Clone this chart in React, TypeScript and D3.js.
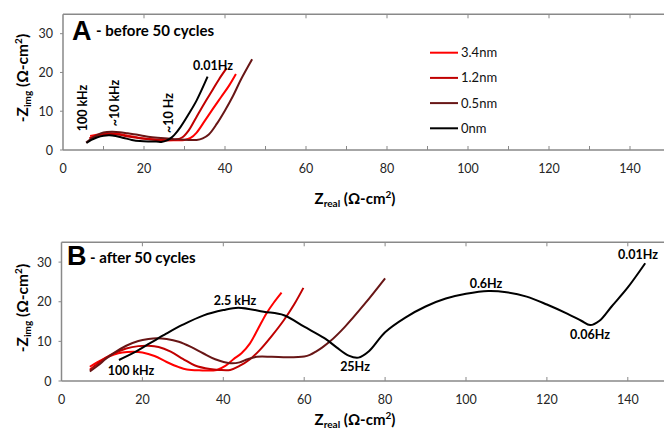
import React from "react";
import * as d3 from "d3";

// ---------- data ----------
const seriesNames = ["3.4nm", "1.2nm", "0.5nm", "0nm"];
const seriesColors = ["#ff0000", "#c00000", "#681616", "#000000"];

// Panel A - before 50 cycles
const a34x = [6.7, 8, 10, 12, 14, 16, 18, 20, 23, 26, 28, 30, 31.5, 33, 35, 37, 39, 41, 42.7];
const a34y = [3.6, 3.9, 4.2, 4.3, 4.1, 3.7, 3.3, 3.0, 2.7, 2.5, 2.5, 2.6, 3.1, 4.5, 7.5, 10.6, 13.6, 16.6, 19.6];
const a12x = [6.5, 8, 10, 12, 14, 16, 18, 20, 23, 26, 28, 29.5, 31, 33, 35, 37, 38.5, 40.4];
const a12y = [3.0, 3.6, 4.0, 4.1, 3.9, 3.5, 3.2, 2.9, 2.6, 2.5, 2.7, 3.3, 5.0, 8.6, 12.2, 15.6, 18.2, 21.1];
const a05x = [5.7, 7, 8.5, 10, 12, 14, 16, 18, 20, 22, 25, 28, 31, 33, 34.5, 36, 38, 40, 42, 44, 46.7];
const a05y = [1.9, 2.9, 3.9, 4.5, 4.7, 4.6, 4.3, 4.0, 3.6, 3.3, 3.0, 2.8, 2.6, 2.6, 3.0, 4.0, 6.8, 10.2, 14.0, 18.3, 23.4];
const a00x = [5.8, 7, 8.5, 10, 11.5, 13, 15, 17, 19, 21, 23, 24.5, 25.5, 26.5, 27.5, 29, 31, 33, 35.7];
const a00y = [1.8, 2.6, 3.3, 3.7, 3.8, 3.6, 3.1, 2.6, 2.3, 2.2, 2.2, 2.1, 2.4, 3.0, 3.9, 5.9, 9.2, 12.8, 18.9];

// Panel B - after 50 cycles
const b34x = [7, 9, 11, 13, 15, 17.8, 20, 23, 26, 29, 31, 34, 38.4, 40.5, 42.5, 44.5, 46.6, 48.5, 50.7, 52.5, 54.4];
const b34y = [3.6, 4.8, 5.9, 6.7, 7.2, 7.4, 7.2, 6.3, 4.8, 3.5, 2.9, 2.7, 2.8, 3.8, 5.5, 7.0, 9.5, 13.0, 17.1, 19.8, 22.3];
const b12x = [7, 9, 11, 13, 16, 19, 21.5, 24, 27, 30, 33, 36.7, 39, 41.7, 44, 46.6, 49, 52, 55, 57.5, 59.8];
const b12y = [2.8, 4.4, 5.9, 7.0, 8.2, 8.8, 8.9, 8.6, 7.4, 5.6, 3.9, 3.0, 2.8, 2.8, 3.8, 5.5, 7.8, 11.4, 15.4, 19.3, 23.5];
const b05x = [7, 9, 11, 13, 16, 19, 21.5, 23.5, 26, 29, 32, 35, 38, 41.7, 44, 46, 48.3, 52, 56, 60, 61.4, 63, 64.5, 66.4, 70, 75, 80];
const b05y = [2.4, 3.9, 5.6, 7.1, 8.9, 10.1, 10.6, 10.8, 10.6, 9.9, 8.6, 7.0, 5.5, 4.5, 4.7, 5.5, 6.1, 6.1, 6.0, 6.2, 6.6, 7.5, 8.5, 10.0, 13.6, 19.5, 25.9];
const b00x = [14.2, 18, 22, 26, 30, 35, 40, 43.7, 50, 55, 60, 65, 68, 71, 73.4, 76, 80, 85, 90, 95, 100, 105.5, 110, 115, 120, 125, 128.5, 130.7, 133, 136, 140, 144.3];
const b00y = [5.3, 7.2, 9.6, 12, 14.2, 16.5, 17.9, 18.5, 17.5, 16.6, 13.7, 10.8, 8.5, 6.4, 5.9, 7.5, 12.3, 16, 18.8, 20.8, 22, 22.7, 22.4, 21.3, 19.3, 17, 15.2, 14.1, 15.2, 18.8, 23.6, 29.7];

const xTickLabels = [0, 20, 40, 60, 80, 100, 120, 140];
const yTickLabels = [0, 10, 20, 30];

type Pt = [number, number];
const zip = (xs: number[], ys: number[]): Pt[] => xs.map((x, i) => [x, ys[i]]);

const panelA = [zip(a34x, a34y), zip(a12x, a12y), zip(a05x, a05y), zip(a00x, a00y)];
const panelB = [zip(b34x, b34y), zip(b12x, b12y), zip(b05x, b05y), zip(b00x, b00y)];

const FONT = "Lato, 'Open Sans', 'DejaVu Sans', sans-serif";
const AXIS = "#898989";

type Ann = { text: string; x: number; y: number; rot?: boolean };

function Panel(props: {
  x0: number; perUnit: number; yBottom: number; yTop: number;
  data: Pt[][]; letter: string; subtitle: string; letterX: number; letterY: number; subX: number; subY: number;
  minorTicks: boolean; anns: Ann[]; yTitleX: number; yTitleY: number; xTitleX: number; xTitleY: number;
  legend?: boolean;
}) {
  const { x0, perUnit, yBottom, yTop, data } = props;
  const x = d3.scaleLinear().domain([0, 150]).range([x0, x0 + 150 * perUnit]);
  const y = d3.scaleLinear().domain([0, 35]).range([yBottom, yTop]);
  const line = d3.line<Pt>().x(d => x(d[0])).y(d => y(d[1])).curve(d3.curveCatmullRom.alpha(0.5));
  const bottomTicks = props.minorTicks ? d3.range(10, 151, 10) : d3.range(20, 151, 20);
  const topTicks = d3.range(20, 151, 20);
  return (
    <g>
      {/* frame */}
      <line x1={x(0)} x2={x(150)} y1={y(35)} y2={y(35)} stroke={AXIS} strokeWidth={1.5} />
      <line x1={x(0)} x2={x(0)} y1={y(35)} y2={y(0)} stroke={AXIS} strokeWidth={1.5} />
      <line x1={x(0)} x2={x(150)} y1={y(0)} y2={y(0)} stroke={AXIS} strokeWidth={1.5} />
      {bottomTicks.map(t => (
        <line key={"b" + t} x1={x(t)} x2={x(t)} y1={y(0)} y2={y(0) - 4} stroke={AXIS} strokeWidth={1} />
      ))}
      {topTicks.map(t => (
        <line key={"t" + t} x1={x(t)} x2={x(t)} y1={y(35)} y2={y(35) + 4} stroke={AXIS} strokeWidth={1} />
      ))}
      {yTickLabels.map(t => (
        <line key={"yl" + t} x1={x(0) - 3} x2={x(0)} y1={y(t)} y2={y(t)} stroke={AXIS} strokeWidth={1} />
      ))}
      {xTickLabels.map(t => (
        <text key={"xt" + t} x={x(t)} y={y(0) + 23} textAnchor="middle" fontSize={12.5} fill="#262626" fontFamily={FONT}>{t}</text>
      ))}
      {yTickLabels.map(t => (
        <text key={"yt" + t} x={x(0) - 10} y={y(t) + 4.5} textAnchor="end" fontSize={12.5} fill="#262626" fontFamily={FONT}>{t}</text>
      ))}
      {/* series */}
      {data.map((d, i) => (
        <path key={"s" + i} d={line(d) || ""} fill="none" stroke={seriesColors[i]} strokeWidth={2} />
      ))}
      {/* titles */}
      <text x={props.letterX} y={props.letterY} fontSize={27} fontWeight="bold" fontFamily="'Liberation Sans', Arial, sans-serif">{props.letter}</text>
      <text x={props.subX} y={props.subY} fontSize={15} fontWeight="bold" fontFamily={FONT}>{props.subtitle}</text>
      <text transform={`translate(${props.yTitleX},${props.yTitleY}) rotate(-90)`} textAnchor="middle" fontSize={15.5} fontWeight="bold" fontFamily={FONT}>
        -Z<tspan fontSize={10} dy={3}>img</tspan><tspan dy={-3}> (Ω-cm</tspan><tspan fontSize={10} dy={-6}>2</tspan><tspan dy={6}>)</tspan>
      </text>
      <text x={props.xTitleX} y={props.xTitleY} textAnchor="middle" fontSize={15} fontWeight="bold" fontFamily={FONT}>
        Z<tspan fontSize={10} dy={3}>real</tspan><tspan dy={-3}> (Ω-cm</tspan><tspan fontSize={10} dy={-6}>2</tspan><tspan dy={6}>)</tspan>
      </text>
      {props.anns.map((a, i) =>
        a.rot ? (
          <text key={"a" + i} transform={`translate(${a.x},${a.y}) rotate(-90)`} textAnchor="middle" fontSize={12.5} fontWeight="bold" fontFamily={FONT}>{a.text}</text>
        ) : (
          <text key={"a" + i} x={a.x} y={a.y} textAnchor="middle" fontSize={12.5} fontWeight="bold" fontFamily={FONT}>{a.text}</text>
        )
      )}
      {props.legend && seriesNames.map((n, i) => (
        <g key={"lg" + i}>
          <line x1={430} x2={458} y1={52.7 + i * 25.2} y2={52.7 + i * 25.2} stroke={seriesColors[i]} strokeWidth={2} />
          <text x={461} y={52.7 + i * 25.2 + 4.5} fontSize={13} fontFamily={FONT} fill="#111">{n}</text>
        </g>
      ))}
    </g>
  );
}

export default function App() {
  return (
    <svg width={664} height={435} style={{ position: "absolute", left: 0, top: 0, background: "#fff" }}>
      <rect width={664} height={435} fill="#fff" />
      <Panel x0={63} perUnit={4.05} yBottom={150} yTop={14.3} data={panelA}
        letter="A" subtitle="- before 50 cycles" letterX={72} letterY={40} subX={96} subY={36}
        minorTicks={true}
        anns={[
          { text: "0.01Hz", x: 213, y: 70 },
          { text: "100 kHz", x: 87, y: 108, rot: true },
          { text: "~10 kHz", x: 119, y: 103, rot: true },
          { text: "~10 Hz", x: 173, y: 113, rot: true },
        ]}
        yTitleX={28} yTitleY={78} xTitleX={355} xTitleY={204} legend={true} />
      <Panel x0={61.5} perUnit={4.045} yBottom={381} yTop={242.3} data={panelB}
        letter="B" subtitle="- after 50 cycles" letterX={67} letterY={265} subX={90} subY={263}
        minorTicks={false}
        anns={[
          { text: "2.5 kHz", x: 235, y: 305 },
          { text: "100 kHz", x: 131, y: 375 },
          { text: "25Hz", x: 355, y: 371 },
          { text: "0.6Hz", x: 486, y: 288 },
          { text: "0.06Hz", x: 590, y: 339 },
          { text: "0.01Hz", x: 638, y: 259 },
        ]}
        yTitleX={28} yTitleY={308} xTitleX={355} xTitleY={425} />
    </svg>
  );
}
